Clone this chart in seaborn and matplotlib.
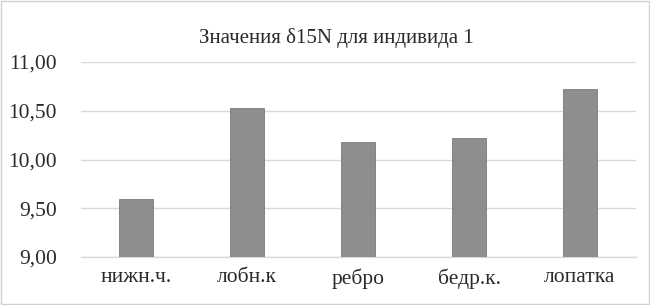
import matplotlib
matplotlib.use("Agg")
import matplotlib.pyplot as plt
import seaborn as sns
import pandas as pd
from matplotlib.patches import Rectangle

categories = ["нижн.ч.", "лобн.к", "ребро", "бедр.к.", "лопатка"]
values = [9.60, 10.53, 10.18, 10.22, 10.72]
yticks = [9.0, 9.5, 10.0, 10.5, 11.0]
ytick_labels = ["9,00", "9,50", "10,00", "10,50", "11,00"]
title = "Значения δ15N для индивида 1"

sns.set_theme(style="white")
plt.rcParams['font.family'] = ['Liberation Serif', 'DejaVu Serif']

df = pd.DataFrame({"cat": categories, "val": values})

fig = plt.figure(figsize=(6.5, 3.05), dpi=100)
ax = fig.add_axes([80.5/650, 1-257/305, 555/650, (257-62)/305])
sns.barplot(data=df, x="cat", y="val", color="#8e8e8e", width=0.31,
            edgecolor="#7a7a7a", linewidth=0.6, ax=ax, zorder=3)
ax.set_ylim(9.0, 11.0)
ax.set_yticks(yticks)
ax.set_yticklabels(ytick_labels, fontsize=15.5, color="#2a2a2a")
ax.tick_params(axis='x', labelsize=15.5, colors="#2a2a2a", length=0, pad=8)
ax.tick_params(axis='y', length=0, pad=17)
ax.set_xlabel("")
ax.set_ylabel("")
ax.grid(axis='y', color="#d9d9d9", linewidth=1, zorder=0)
for s in ["top", "right", "left"]:
    ax.spines[s].set_visible(False)
ax.spines["bottom"].set_color("#d9d9d9")
ax.spines["bottom"].set_linewidth(1)
ax.set_xlim(-0.5, 4.5)
fig.text(336/650, 1-43/305, title, ha="center", va="baseline", fontsize=15, color="#2a2a2a")
fig.patches.append(Rectangle((0.002, 0.003), 0.996, 0.994, transform=fig.transFigure,
                             fill=False, edgecolor="#d0d0d0", linewidth=1))
fig.savefig("out.png", dpi=100)
